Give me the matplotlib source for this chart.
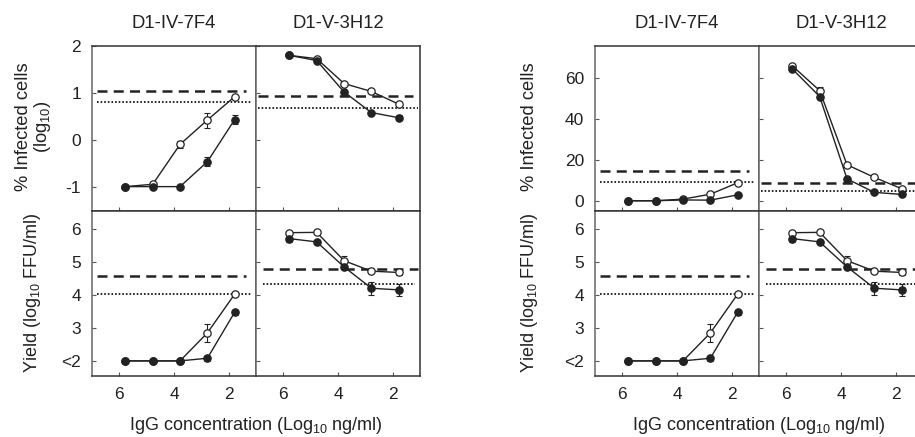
import numpy as np
import matplotlib
matplotlib.use('Agg')
import matplotlib.pyplot as plt

plt.rcParams['font.family'] = ['Liberation Sans', 'DejaVu Sans']
plt.rcParams['mathtext.fontset'] = 'custom'
plt.rcParams['mathtext.rm'] = 'Liberation Sans'
plt.rcParams['axes.unicode_minus'] = False

# IgG concentration (log10 ng/ml)
x_conc = [5.78, 4.78, 3.78, 2.78, 1.78]

# % infected cells, log10 scale
log_7f4_open = [-1.0, -0.95, -0.1, 0.42, 0.92]
log_7f4_open_err = [0, 0.03, 0.07, 0.16, 0.03]
log_7f4_filled = [-1.0, -1.0, -1.0, -0.47, 0.43]
log_7f4_filled_err = [0, 0, 0, 0.1, 0.1]
log_3h12_open = [1.8, 1.73, 1.2, 1.03, 0.76]
log_3h12_open_err = [0, 0, 0.03, 0.03, 0.04]
log_3h12_filled = [1.8, 1.69, 1.02, 0.58, 0.47]
log_3h12_filled_err = [0, 0, 0, 0, 0.05]

# % infected cells, linear scale
pct_7f4_open = [0, 0, 0.8, 3.2, 8.8]
pct_7f4_open_err = [0, 0, 0, 0, 0]
pct_7f4_filled = [0, 0, 0.4, 0.3, 2.9]
pct_7f4_filled_err = [0, 0, 0, 0, 0]
pct_3h12_open = [65.9, 53.8, 17.6, 11.4, 5.9]
pct_3h12_open_err = [0, 2.0, 0, 0, 0]
pct_3h12_filled = [64.4, 50.9, 10.7, 4.1, 3.1]
pct_3h12_filled_err = [0, 0, 0, 0, 0]

# virus yield (log10 FFU/ml)
yield_7f4_open = [2.0, 2.0, 2.0, 2.85, 4.03]
yield_7f4_open_err = [0, 0, 0, 0.27, 0.03]
yield_7f4_filled = [2.0, 2.0, 2.0, 2.08, 3.48]
yield_7f4_filled_err = [0, 0, 0, 0.08, 0.07]
yield_3h12_open = [5.9, 5.91, 5.05, 4.73, 4.69]
yield_3h12_open_err = [0, 0, 0.15, 0.05, 0.08]
yield_3h12_filled = [5.72, 5.62, 4.86, 4.21, 4.16]
yield_3h12_filled_err = [0.1, 0.05, 0.05, 0.2, 0.18]

# reference levels (dashed, dotted)
log_ref = {'7f4': (1.05, 0.81), '3h12': (0.93, 0.68)}
pct_ref = {'7f4': (14.6, 9.3), '3h12': (8.5, 4.9)}
yield_ref = {'7f4': (4.57, 4.04), '3h12': (4.79, 4.35)}

log_ticks = [-1, 0, 1, 2]
pct_ticks = [0, 20, 40, 60]
yield_ticks = [2, 3, 4, 5, 6]
yield_ticklabels = ['<2', '3', '4', '5', '6']
x_ticks = [6, 4, 2]

ink = '#222222'
W, H = 915, 437


def rect(x0, y0, x1, y1):
    return [x0 / W, 1 - y1 / H, (x1 - x0) / W, (y1 - y0) / H]


def draw_series(ax, y, err, filled):
    y = np.array(y)
    err = np.array(err)
    x = np.array(x_conc)
    m = err > 0
    if m.any():
        ax.errorbar(x[m], y[m], yerr=err[m], fmt='none', ecolor=ink,
                    elinewidth=0.8, capsize=2.5, capthick=0.8, zorder=3)
    ax.plot(x, y, '-o', color=ink, lw=1.0, ms=5.3,
            mfc=ink if filled else 'white', mec=ink, mew=0.9,
            zorder=5 if filled else 4)


def panel(ax, opn, opn_err, fil, fil_err, ref, ylim, yticks, refspan):
    dash, dot = ref
    ax.axhline(dash, xmin=refspan[0], xmax=refspan[1], color=ink, lw=1.8,
               ls=(0, (4, 2.5)), zorder=2)
    ax.axhline(dot, xmin=refspan[0], xmax=refspan[2], color='#111111', lw=1.3,
               ls=(0, (0.9, 1.1)), zorder=2)
    draw_series(ax, opn, opn_err, False)
    draw_series(ax, fil, fil_err, True)
    ax.set_xlim(7, 1)
    ax.set_ylim(*ylim)
    ax.set_xticks(x_ticks)
    ax.set_yticks(yticks)
    ax.tick_params(direction='in', length=3, width=0.8, color='#555555',
                   labelsize=12.5, labelcolor=ink, pad=8)
    for s in ax.spines.values():
        s.set_color('#333333')
        s.set_linewidth(1.1)
    ax.spines['left'].set_color('#666666')


fig = plt.figure(figsize=(W / 100, H / 100), dpi=100)

groups = [
    dict(x0=92, top=(log_7f4_open, log_7f4_open_err, log_7f4_filled, log_7f4_filled_err, log_ref['7f4']),
         top2=(log_3h12_open, log_3h12_open_err, log_3h12_filled, log_3h12_filled_err, log_ref['3h12']),
         ylim=(-1.52, 2.0), yticks=log_ticks, ylabel='% Infected cells\n(log$_{10}$)', ylx=34),
    dict(x0=595, top=(pct_7f4_open, pct_7f4_open_err, pct_7f4_filled, pct_7f4_filled_err, pct_ref['7f4']),
         top2=(pct_3h12_open, pct_3h12_open_err, pct_3h12_filled, pct_3h12_filled_err, pct_ref['3h12']),
         ylim=(-5, 75.6), yticks=pct_ticks, ylabel='% Infected cells', ylx=530),
]

for g in groups:
    x0 = g['x0']
    w = 164
    ax_tl = fig.add_axes(rect(x0, 46, x0 + w, 211))
    ax_tr = fig.add_axes(rect(x0 + w, 46, x0 + 2 * w, 211))
    ax_bl = fig.add_axes(rect(x0, 211, x0 + w, 376))
    ax_br = fig.add_axes(rect(x0 + w, 211, x0 + 2 * w, 376))

    o, oe, f, fe, r = g['top']
    panel(ax_tl, o, oe, f, fe, r, g['ylim'], g['yticks'], (0.03, 0.94, 0.97))
    o, oe, f, fe, r = g['top2']
    panel(ax_tr, o, oe, f, fe, r, g['ylim'], g['yticks'], (0.01, 0.96, 0.99))
    panel(ax_bl, yield_7f4_open, yield_7f4_open_err, yield_7f4_filled,
          yield_7f4_filled_err, yield_ref['7f4'], (1.54, 6.56), yield_ticks,
          (0.03, 0.94, 0.97))
    panel(ax_br, yield_3h12_open, yield_3h12_open_err, yield_3h12_filled,
          yield_3h12_filled_err, yield_ref['3h12'], (1.54, 6.56), yield_ticks,
          (0.04, 0.99, 0.97))

    ax_bl.set_yticklabels(yield_ticklabels)
    for a in (ax_tl, ax_tr):
        a.tick_params(labelbottom=False)
    for a in (ax_tr, ax_br):
        a.tick_params(labelleft=False)

    ax_tl.set_title('D1-IV-7F4', fontsize=13.3, color=ink, pad=13)
    ax_tr.set_title('D1-V-3H12', fontsize=13.3, color=ink, pad=13)

    fig.text(g['ylx'] / W, 1 - 127 / H, g['ylabel'], rotation=90,
             ha='center', va='center', fontsize=13.2, color=ink,
             multialignment='center', linespacing=1.05)
    fig.text((33 if x0 < 300 else g['ylx']) / W, 1 - 293 / H,
             'Yield (log$_{10}$ FFU/ml)', rotation=90, ha='center',
             va='center', fontsize=13, color=ink)
    fig.text((x0 + w) / W, 1 - 425 / H, 'IgG concentration (Log$_{10}$ ng/ml)',
             ha='center', va='center', fontsize=13, color=ink)

fig.savefig('out.png', dpi=100)
